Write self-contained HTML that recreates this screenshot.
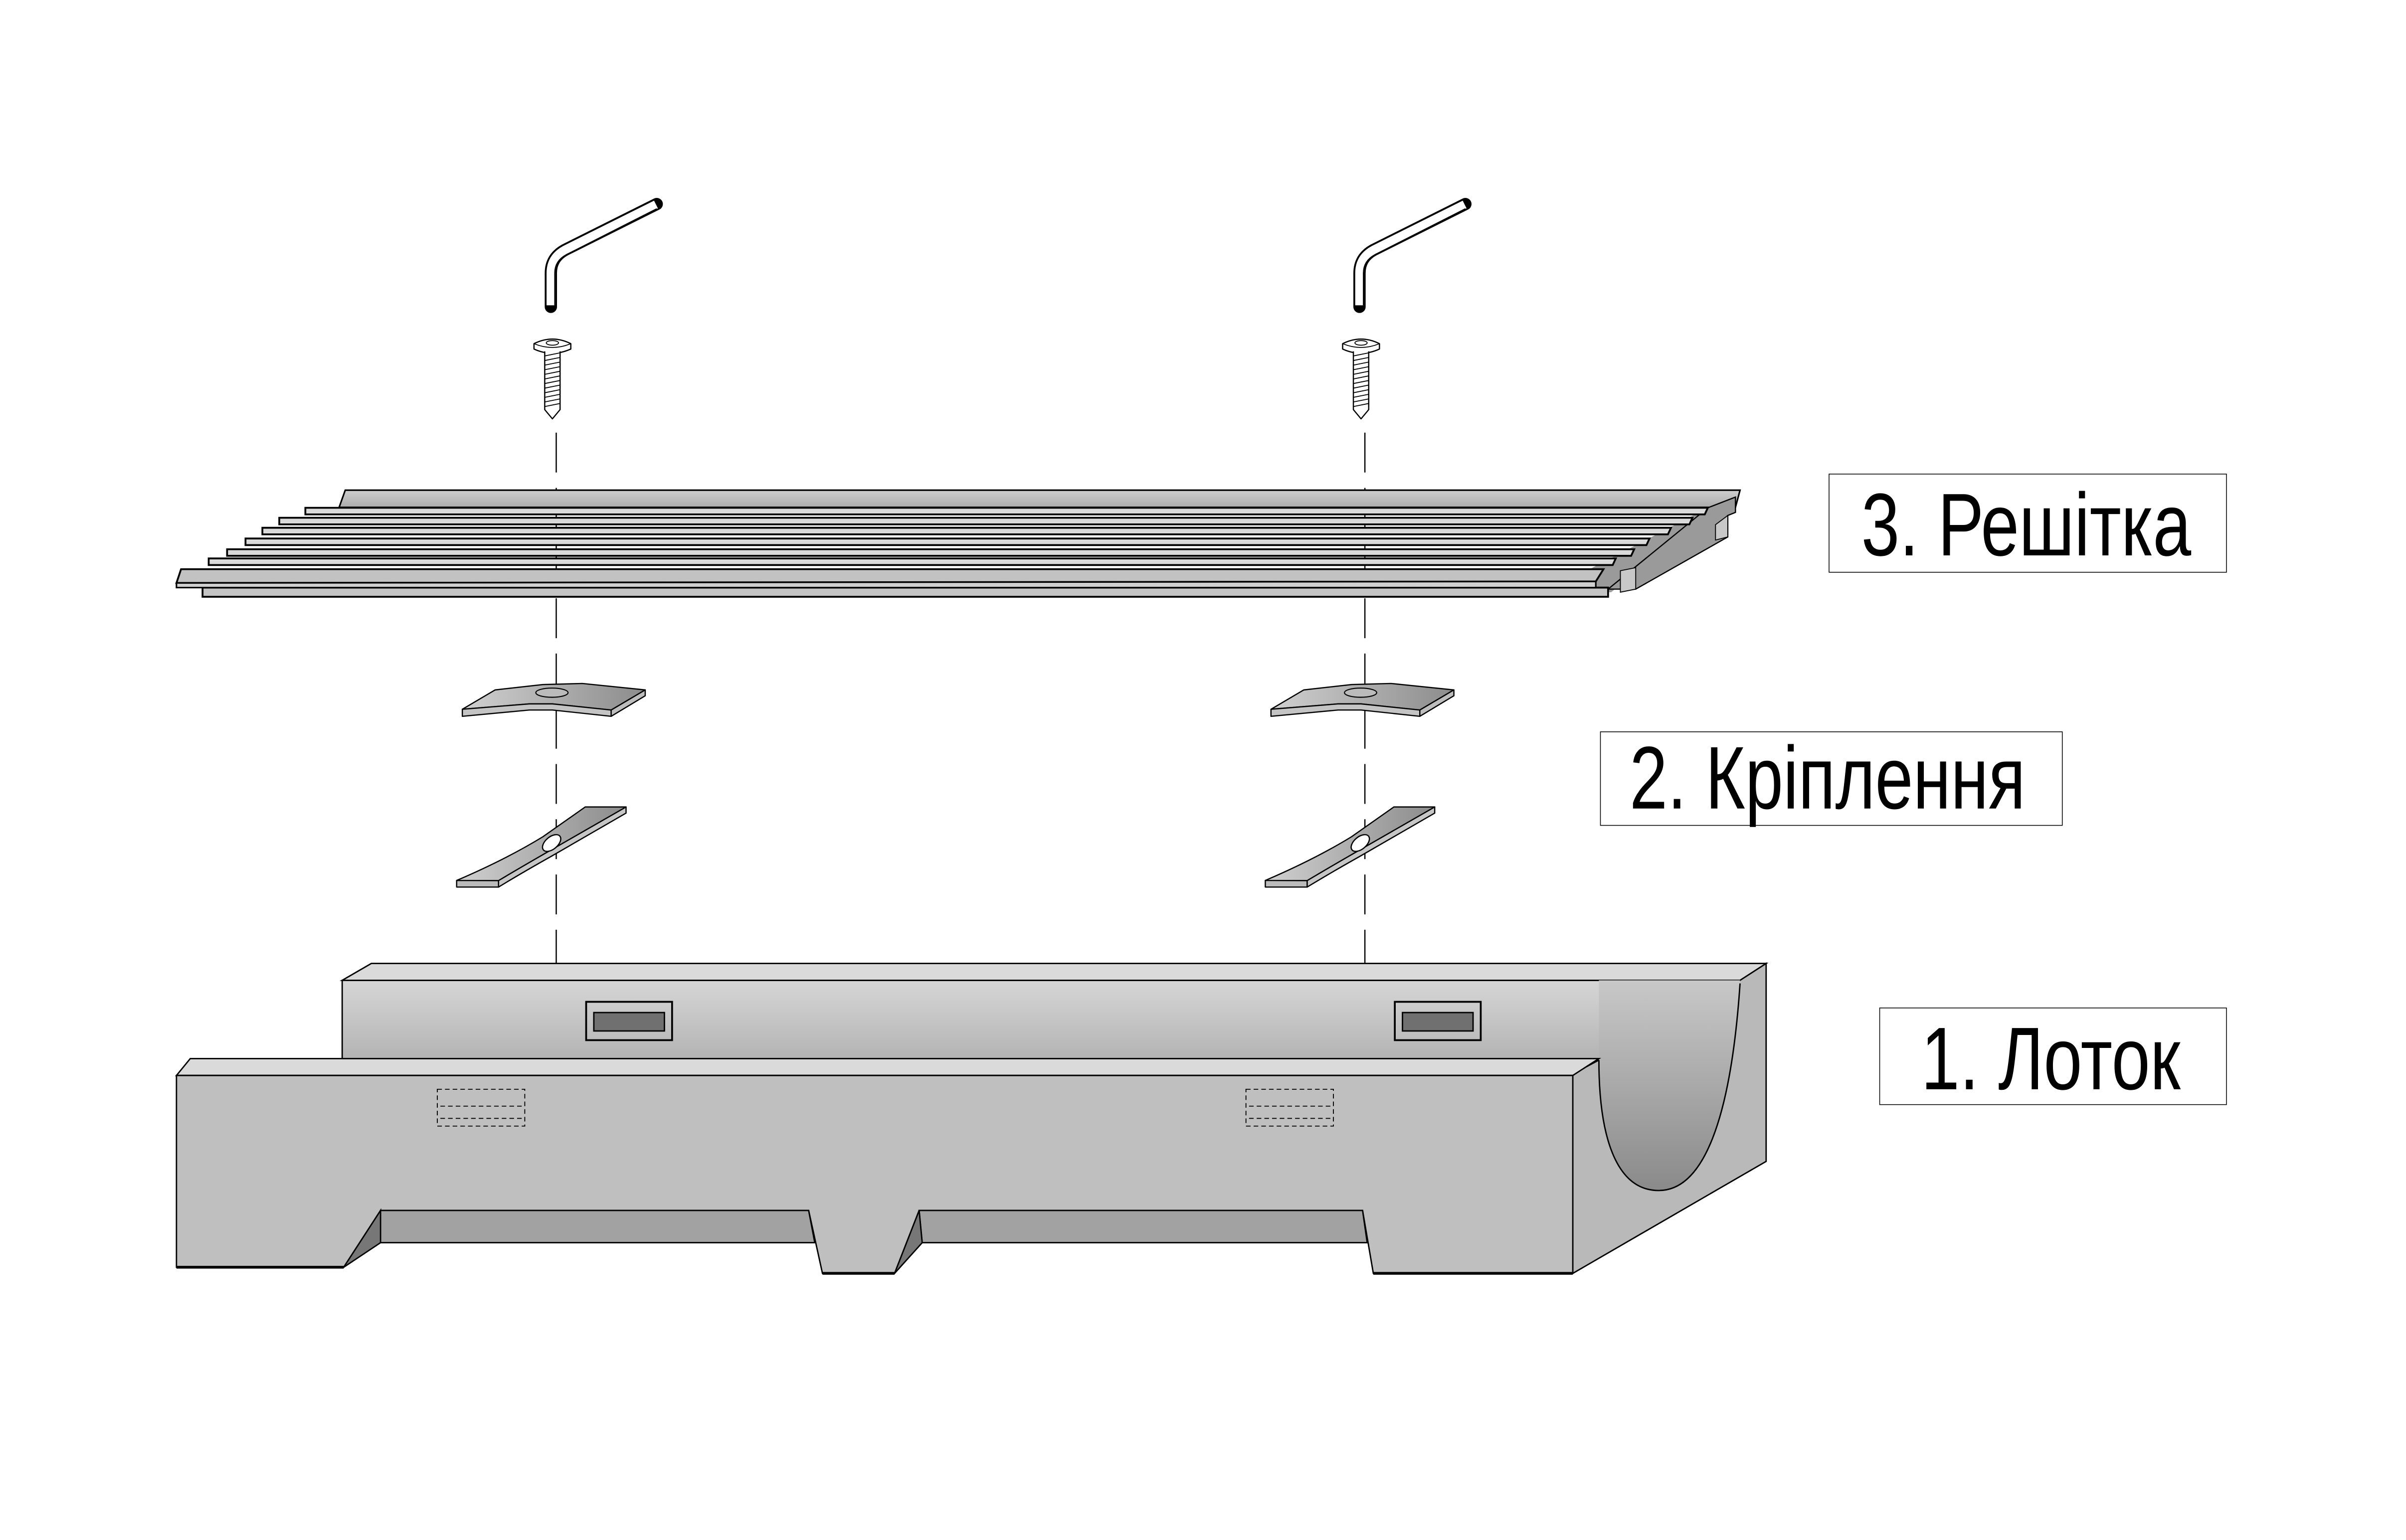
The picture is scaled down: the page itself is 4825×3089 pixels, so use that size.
<!DOCTYPE html>
<html><head><meta charset="utf-8"><style>html,body{margin:0;padding:0;background:#fff}svg{display:block}</style></head>
<body>
<svg xmlns="http://www.w3.org/2000/svg" width="4825" height="3089" viewBox="0 0 1568 1003.8" preserveAspectRatio="none">
<defs>
<linearGradient id="back" x1="0" y1="0" x2="0" y2="1"><stop offset="0" stop-color="#d6d6d6"/><stop offset="1" stop-color="#adadad"/></linearGradient>
<linearGradient id="ch" x1="0" y1="0" x2="0" y2="1"><stop offset="0" stop-color="#c8c8c8"/><stop offset="1" stop-color="#8a8a8a"/></linearGradient>
<linearGradient id="clip" x1="0" y1="0" x2="1" y2="0"><stop offset="0" stop-color="#d0d0d0"/><stop offset="1" stop-color="#8c8c8c"/></linearGradient>
<linearGradient id="plate" x1="0" y1="0" x2="0" y2="1"><stop offset="0" stop-color="#cfcfcf"/><stop offset="1" stop-color="#ababab"/></linearGradient>
<g id="hw" fill="none" stroke-linejoin="round">
  <path d="M359,200 L359,178 Q359,168 368,163 L428,133" stroke="#000" stroke-width="8" stroke-linecap="round"/>
  <path d="M359,199 L359,178 Q359,168 368,163 L427.5,133.3" stroke="#fff" stroke-width="5.6"/>
  <path d="M361.5,199 L361.5,178 Q361.5,170 369,166 L428,136" stroke="#000" stroke-width="0.6"/>
  <path d="M348,224 Q360,218 372,224 L372,227.5 Q360,233 348,227.5 Z" fill="#fff" stroke="#000" stroke-width="0.8"/>
  <path d="M348,224 Q360,229 372,224" stroke="#000" stroke-width="0.6"/>
  <ellipse cx="360" cy="223.5" rx="4" ry="1.5" stroke="#000" stroke-width="0.6"/>
  <path d="M355,229 L355,267 L360,273 L365,267 L365,229" fill="#fff" stroke="#000" stroke-width="0.8"/>
  <path d="M355,232 L365,230 M355,235 L365,233 M355,238 L365,236 M355,241 L365,239 M355,244 L365,242 M355,247 L365,245 M355,250 L365,248 M355,253 L365,251 M355,256 L365,254 M355,259 L365,257 M355,262 L365,260 M355,265 L365,263" stroke="#000" stroke-width="0.6"/>
  <g transform="translate(0,5)">
  <path d="M301.3,457.3 L322.7,444.7 L353.8,441.2 L379.5,440.5 L420.5,444.7 L398.3,457.8 L360,453.8 L345,453.8 Z" fill="url(#clip)" stroke="#000" stroke-width="0.8"/>
  <path d="M301.3,457.3 L345,453.8 L360,453.8 L398.3,457.8 L398.3,461.9 L360,457.8 L345,457.8 L301.3,461.9 Z" fill="#c4c4c4" stroke="#000" stroke-width="0.8"/>
  <path d="M398.3,457.8 L420.5,444.7 L420.5,448.5 L398.3,461.9 Z" fill="#bdbdbd" stroke="#000" stroke-width="0.8"/>
  <ellipse cx="359.7" cy="446.5" rx="10.5" ry="3" fill="#bbb" stroke="#000" stroke-width="0.7"/>
  <path d="M297.6,568.9 Q330,555 353.8,540.4 L381.4,521 L408,521 L359.2,549 Q340,560 324.9,569 Z" fill="url(#clip)" stroke="#000" stroke-width="0.8"/>
  <path d="M297.6,568.9 L324.9,569 L324.9,573.2 L297.6,573.2 Z" fill="#bbb" stroke="#000" stroke-width="0.8"/>
  <path d="M324.9,569 Q340,560 359.2,549 L408,521 L408,525 L359.2,553.2 Q340,564 324.9,573.2 Z" fill="#c6c6c6" stroke="#000" stroke-width="0.8"/>
  <ellipse cx="359.5" cy="544.5" rx="4" ry="7" transform="rotate(50 359.5 544.5)" fill="#fff" stroke="#000" stroke-width="0.8"/>
  </g>
</g>
</defs>
<rect width="1568" height="1003.8" fill="#fff"/>

<g stroke="#000" stroke-width="0.8" stroke-dasharray="26 10">
<line x1="362.5" y1="282" x2="362.5" y2="690"/>
<line x1="889.5" y1="282" x2="889.5" y2="690"/>
</g>

<use href="#hw"/>
<use href="#hw" transform="translate(527,0)"/>

<g stroke="#000">
  <path d="M221,330.7 L225,319.5 L1134,319.5 L1131,330.7 Z" fill="url(#plate)" stroke-width="1"/>
  <path d="M1036,371 L1113,331 L1113,336 L1050,386 L1036,386 Z" fill="#9a9a9a" stroke="none"/>
  <path d="M1113,331 L1131,324 L1131,334 L1126,336 L1126,350 L1066,384 L1048,384 Z" fill="#9a9a9a" stroke-width="0.8"/>
  <path d="M1126,336 L1118,342 L1118,352 L1126,350 Z" fill="#c8c8c8" stroke-width="0.6"/>
  <path d="M1056,372 L1066,370 L1066,384 L1056,386 Z" fill="#c8c8c8" stroke-width="0.6"/>
  <path d="M132,383 L1048,383 L1048,389 L132,389 Z" fill="#c4c4c4" stroke-width="1.2"/>
  <path d="M199,331 L1113,331 L1111,335.3 L199,335.3 Z" fill="#dadada" stroke-width="1.2"/>
  <path d="M182,337.5 L1103,337.5 L1101,341.8 L182,341.8 Z" fill="#dadada" stroke-width="1.2"/>
  <path d="M171,344 L1089,344 L1087,348.3 L171,348.3 Z" fill="#dadada" stroke-width="1.2"/>
  <path d="M160,351 L1075,351 L1073,355.3 L160,355.3 Z" fill="#dadada" stroke-width="1.2"/>
  <path d="M148,358 L1065,358 L1063,362.3 L148,362.3 Z" fill="#dadada" stroke-width="1.2"/>
  <path d="M136,364 L1053,364 L1051,368.3 L136,368.3 Z" fill="#dadada" stroke-width="1.2"/>
  <path d="M118,371 L1045,371 L1040,379 L115,380 Z" fill="#c2c2c2" stroke-width="1.2"/>
  <path d="M115,380 L1040,379 L1040,383 L115,383 Z" fill="#d0d0d0" stroke-width="1"/>
</g>

<g stroke="#000" stroke-width="0.9">
  <path d="M223,639 L1134,639 L1134,700 L223,700 Z" fill="url(#back)"/>
  <path d="M242,628 L1151,628 L1134,639 L223,639 Z" fill="#dadada"/>
  <path d="M1134,639 L1151,628 L1151,757 L1025,830 L1025,700 L1042,691 Z" fill="#b9b9b9"/>
  <path d="M1042,691 C1042,745 1055,776 1081,776 C1110,776 1128,730 1134,641 L1134,639 L1042,639 Z" fill="url(#ch)" stroke="none"/>
  <path d="M1042,691 C1042,745 1055,776 1081,776 C1110,776 1128,730 1134,641" fill="none"/>
  <rect x="382" y="653" width="56" height="25" fill="none" stroke-width="1.2"/>
  <rect x="387" y="660" width="46" height="12" fill="#707070"/>
  <rect x="909" y="653" width="56" height="25" fill="none" stroke-width="1.2"/>
  <rect x="914" y="660" width="46" height="12" fill="#707070"/>
  <path d="M124,690 L1042,690 L1025,701 L115,701 Z" fill="#dadada"/>
  <path d="M115,701 L1025,701 L1025,830 L895,830 L888,789 L599,789 L583,830 L536,830 L527,789 L248,789 L224,826 L115,826 Z" fill="#bfbfbf"/>
  <path d="M248,789 L527,789 L531,810 L248,810 Z" fill="#a2a2a2"/>
  <path d="M599,789 L888,789 L891,810 L601,810 Z" fill="#a2a2a2"/>
  <path d="M224,826 L248,789 L248,810 Z" fill="#777"/>
  <path d="M583,830 L599,789 L601,810 Z" fill="#777"/>
  <path d="M115,826 L224,826 M536,830 L583,830 M895,830 L1025,830" stroke-width="1.8"/>
</g>
<g fill="none" stroke="#000" stroke-width="0.6" stroke-dasharray="3 2">
  <rect x="285" y="710" width="57" height="24"/><line x1="287" y1="721" x2="340" y2="721"/><line x1="287" y1="729" x2="340" y2="729"/>
  <rect x="812" y="710" width="57" height="24"/><line x1="814" y1="721" x2="867" y2="721"/><line x1="814" y1="729" x2="867" y2="729"/>
</g>

<g fill="#fff" stroke="#000" stroke-width="0.5">
  <rect x="1192" y="309" width="259" height="64"/>
  <rect x="1043" y="477" width="301" height="61"/>
  <rect x="1225" y="657" width="226" height="63"/>
</g>
<g font-family="'Liberation Sans', sans-serif" font-size="58" fill="#000">
  <text x="1213" y="362" textLength="215" lengthAdjust="spacingAndGlyphs">3.  Решітка</text>
  <text x="1062" y="527" textLength="258" lengthAdjust="spacingAndGlyphs">2.  Кріплення</text>
  <text x="1252" y="710" textLength="169" lengthAdjust="spacingAndGlyphs">1.  Лоток</text>
</g>
</svg>
</body></html>
